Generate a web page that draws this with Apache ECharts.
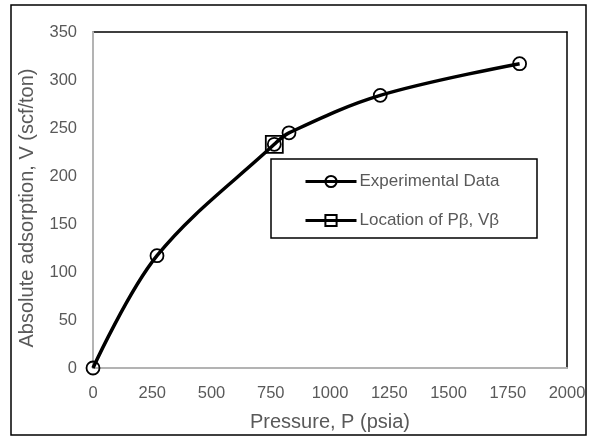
<!DOCTYPE html>
<html><head><meta charset="utf-8">
<script src="https://cdn.jsdelivr.net/npm/echarts@6/dist/echarts.min.js"></script>
<style>html,body{margin:0;padding:0;background:#fff}#c{width:597px;height:437px}</style>
</head><body><div id="c"></div>
<script>
const pressure = [0, 270, 765, 827, 1212, 1800];
const adsorption = [0, 117, 233, 245, 284, 317];
const betaPoint = [765, 233];
const seriesNames = ['Experimental Data', 'Location of P\u03b2, V\u03b2'];
const xTitle = 'Pressure, P (psia)';
const yTitle = 'Absolute adsorption, V (scf/ton)';

const chart = echarts.init(document.getElementById('c'), null, {renderer: 'canvas'});
const font = 'Liberation Sans, Arial, sans-serif';
const grey = '#595959';
const frameAxis = {
  type: 'value', axisLine: {show: true, onZero: false, lineStyle: {color: '#000', width: 1.5}},
  axisTick: {show: false}, axisLabel: {show: false}, splitLine: {show: false}
};
chart.setOption({
  animation: false,
  backgroundColor: '#fff',
  textStyle: {fontFamily: font},
  grid: {left: 93, right: 30, top: 32, bottom: 66},
  graphic: [
    {type: 'rect', shape: {x: 11, y: 5, width: 575, height: 430}, style: {fill: 'none', stroke: '#000', lineWidth: 1.5}, z: 0, silent: true},
    {type: 'rect', shape: {x: 271, y: 159, width: 266, height: 79}, style: {fill: '#fff', stroke: '#000', lineWidth: 1.5}, z: 5, silent: true}
  ],
  legend: {
    left: 304, top: 173, orient: 'vertical', itemGap: 22, itemWidth: 51, itemHeight: 14, z: 10, padding: 0,
    textStyle: {color: grey, fontSize: 17, fontFamily: font, padding: [0, 0, 0, -2]},
    lineStyle: {width: 3},
    data: seriesNames
  },
  xAxis: [{
    type: 'value', min: 0, max: 2000, interval: 250, z: 2,
    name: xTitle, nameLocation: 'middle', nameGap: 44,
    nameTextStyle: {color: grey, fontSize: 20, fontFamily: font},
    axisLine: {show: true, lineStyle: {color: '#b3b3b3', width: 2}},
    axisTick: {show: false}, splitLine: {show: false},
    axisLabel: {color: grey, fontSize: 16.5, margin: 17, fontFamily: font, formatter: v => String(v)}
  }, Object.assign({position: 'top', min: 0, max: 2000}, frameAxis)],
  yAxis: [{
    type: 'value', min: 0, max: 350, interval: 50, z: 2,
    name: yTitle, nameLocation: 'middle', nameGap: 56,
    nameTextStyle: {color: grey, fontSize: 20, fontFamily: font, padding: [0, 0, 0, -16]},
    axisLine: {show: true, lineStyle: {color: '#b3b3b3', width: 2}},
    axisTick: {show: false}, splitLine: {show: false},
    axisLabel: {color: grey, fontSize: 16.5, margin: 16, fontFamily: font, formatter: v => String(v)}
  }, Object.assign({position: 'right', min: 0, max: 350}, frameAxis)],
  series: [
    {
      name: seriesNames[0], type: 'line', smooth: 0.35,
      data: pressure.map((p, i) => [p, adsorption[i]]),
      symbol: 'circle', symbolSize: 13,
      lineStyle: {color: '#000', width: 3.5},
      itemStyle: {color: 'rgba(255,255,255,0)', borderColor: '#000', borderWidth: 1.8},
      z: 3
    },
    {
      name: seriesNames[1], type: 'line',
      data: [betaPoint],
      symbol: 'rect', symbolSize: 17,
      lineStyle: {color: '#000', width: 3.5},
      itemStyle: {color: 'rgba(255,255,255,0)', borderColor: '#000', borderWidth: 1.8},
      z: 4
    }
  ]
});
</script></body></html>
